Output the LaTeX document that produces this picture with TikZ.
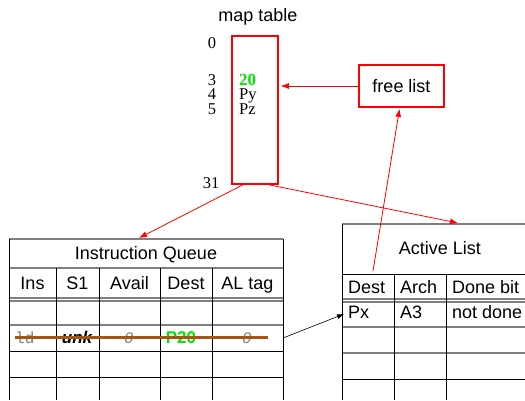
\documentclass[tikz,border=0pt]{standalone}
\usepackage{fontspec}
\setmainfont{Liberation Sans}
\newfontfamily\serifnum{Liberation Serif}
\setmonofont{Liberation Mono}
\usetikzlibrary{arrows.meta}
\definecolor{strike}{RGB}{165,85,20}
\definecolor{brightgreen}{RGB}{0,230,0}
\begin{document}
\begin{tikzpicture}[x=1pt,y=-1pt,
  redbox/.style={draw=red, line width=1.8pt, inner sep=0pt},
  rarrow/.style={red, line width=0.8pt, -{Latex[length=8pt,width=6pt]}},
  karrow/.style={black, line width=0.6pt, -{Latex[length=7pt,width=5pt]}},
  hline/.style={gray, line width=1.2pt},
  hblack/.style={black, line width=0.8pt},
  vline/.style={black, line width=0.8pt},
  lab/.style={font=\fontsize{18}{21}\selectfont, inner sep=0pt},
  num/.style={font=\serifnum\fontsize{16.5}{16}\selectfont, inner sep=0pt, anchor=base},
  mapentry/.style={font=\serifnum\fontsize{16.5}{16}\selectfont, inner sep=0pt, anchor=base west},
  cell/.style={lab, anchor=base},
  lcell/.style={lab, anchor=base west},
]
\useasboundingbox (0,0) rectangle (525,400);

% ---- map table ----
\node[lab] (mt) at (258,17) {map table};
\node[redbox, minimum width=46pt, minimum height=148pt, anchor=north west] (map) at (231,35) {};
\node[num] (n0) at (212,48) {0};
\node[num] (n3) at (212,85) {3};
\node[num] (n4) at (212,99) {4};
\node[num] (n5) at (212,114) {5};
\node[num] (n31) at (211,188) {31};
\node[mapentry, font=\serifnum\bfseries\fontsize{17}{16}\selectfont, text=brightgreen] (e20) at (239,85) {20};
\node[mapentry] (epy) at (239,99) {Py};
\node[mapentry] (epz) at (239,114) {Pz};

% ---- free list ----
\node[redbox, lab, minimum width=85pt, minimum height=42pt] (fl) at (401.5,86) {free list};

% ---- Instruction Queue ----
\draw[hline] (9,239) -- (283,239);
\draw[hline] (9,268) -- (283,268);
\draw[hline] (9,298) -- (283,298);
\draw[hline] (9,301) -- (283,301);
\draw[hline] (9,325) -- (283,325);
\draw[hblack] (9,351) -- (283,351);
\draw[hblack] (9,377) -- (283,377);
\draw[vline] (9,239) -- (9,400);
\draw[vline] (283,239) -- (283,400);
\foreach \x in {56,99,160,212} \draw[vline] (\x,268) -- (\x,400);
\node[cell] (iqt) at (146,259) {Instruction Queue};
\node[cell] (h1) at (32.5,289) {Ins};
\node[cell] (h2) at (77.5,289) {S1};
\node[cell] (h3) at (129.5,289) {Avail};
\node[cell] (h4) at (186,289) {Dest};
\node[cell] (h5) at (247.5,289) {AL tag};
\node[lab, anchor=base west, font=\ttfamily\fontsize{16}{16}\selectfont, text=gray] (r1) at (15,343) {ld};
\node[cell, font=\bfseries\itshape\fontsize{17}{20}\selectfont] (r2) at (77,343) {unk};
\node[cell, font=\ttfamily\itshape\fontsize{16}{16}\selectfont, text=gray] (r3) at (129,343) {0};
\node[cell, font=\bfseries\fontsize{17}{20}\selectfont, text=brightgreen] (r4) at (181,343) {P20};
\node[cell, font=\ttfamily\itshape\fontsize{16}{16}\selectfont, text=gray] (r5) at (247,343) {0};
\coordinate (s1) at (15,337);
\coordinate (s2) at (268,337);
\draw[strike, line width=3pt] (s1) -- (s2);

% ---- Active List ----
\draw[hline] (342,224) -- (525,224);
\draw[hblack] (342,274) -- (525,274);
\draw[hline] (342,299) -- (525,299);
\draw[hline] (342,302) -- (525,302);
\draw[gray, line width=1.8pt] (342,327) -- (525,327);
\draw[hline] (342,353) -- (525,353);
\draw[hblack] (342,379) -- (525,379);
\draw[vline] (342,224) -- (342,400);
\foreach \x in {394,446} \draw[vline] (\x,274) -- (\x,400);
\node[cell] (alt) at (440,254) {Active List};
\node[lcell] (a1) at (348,293) {Dest};
\node[lcell] (a2) at (400,293) {Arch};
\node[lcell] (a3) at (452,293) {Done bit};
\node[lcell] (b1) at (348,318) {Px};
\node[lcell] (b2) at (400,318) {A3};
\node[lcell] (b3) at (452,318) {not done};

% ---- connectors ----
\coordinate (iqtop) at (139,238);
\coordinate (altop) at (458,223);
\coordinate (aldest) at (373,271);
\coordinate (iqrow) at (283,338);
\coordinate (alpx) at (344,314);
\draw[rarrow] (fl.west) -- ([xshift=2pt]fl.west -| map.east);
\draw[rarrow] ([xshift=-12pt]map.south) -- (iqtop);
\draw[rarrow] ([xshift=14pt]map.south) -- (altop);
\draw[rarrow] (aldest) -- ([xshift=-2pt,yshift=-1pt]fl.south);
\draw[karrow] (iqrow) -- (alpx);
\end{tikzpicture}
\end{document}
